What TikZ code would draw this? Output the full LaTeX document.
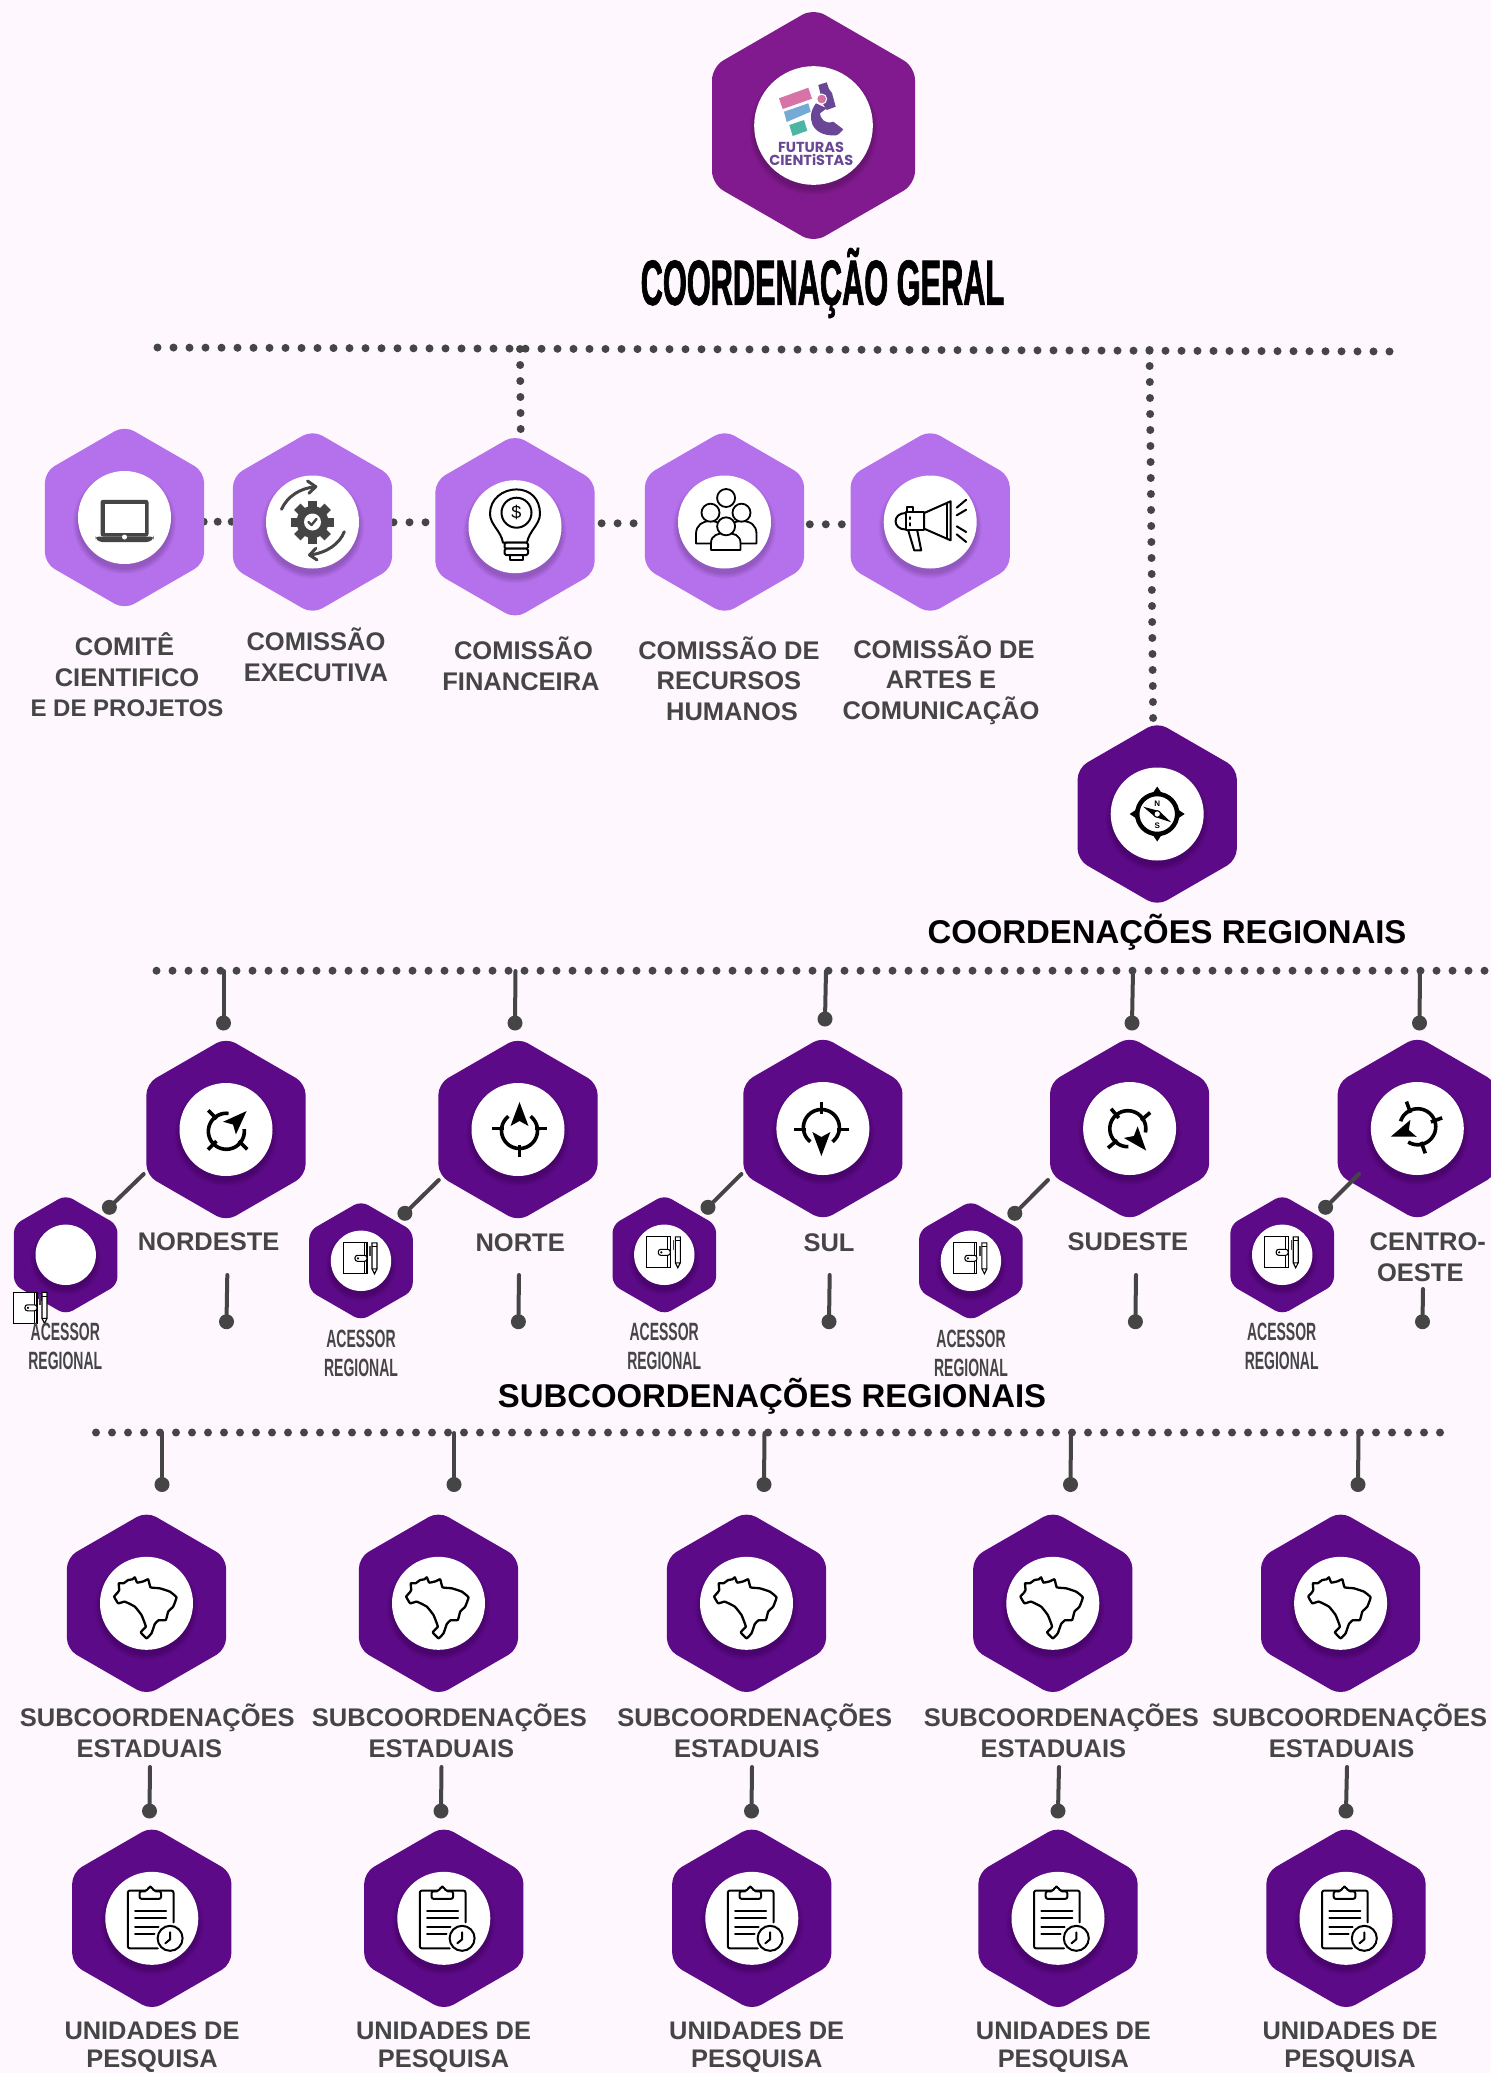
\documentclass[tikz,border=0pt]{standalone}
\usepackage{fontspec}
\setmainfont{Liberation Sans}
\newfontfamily\labfont{Liberation Sans}
\newfontfamily\condfont[FakeStretch=0.56]{Liberation Sans}
\newfontfamily\titlefont[FakeStretch=0.48,BoldFeatures={FakeBold=1}]{Liberation Sans}
\newfontfamily\logofont{Poppins}
\usetikzlibrary{shapes.geometric,backgrounds}
\definecolor{pagebg}{HTML}{FEF7FD}
\definecolor{toppurple}{HTML}{811A8E}
\definecolor{lightpurple}{HTML}{B570EC}
\definecolor{darkpurple}{HTML}{5C0A87}
\definecolor{ink}{HTML}{454545}
\definecolor{logopurple}{HTML}{6A4796}
\definecolor{logopink}{HTML}{D873A8}
\definecolor{logoblue}{HTML}{74AAD5}
\definecolor{logoteal}{HTML}{4CB5A5}
\tikzset{
  hexbase/.style={regular polygon,regular polygon sides=6,shape border rotate=30,inner sep=0pt,outer sep=0pt,draw=none},
  hextop/.style={hexbase,minimum size=234.4pt,rounded corners=13pt,fill=toppurple},
  hexlight/.style={hexbase,minimum size=183.8pt,rounded corners=11pt,fill=lightpurple},
  hexdark/.style={hexbase,minimum size=183.8pt,rounded corners=11pt,fill=darkpurple},
  hexsmall/.style={hexbase,minimum size=119.6pt,rounded corners=8pt,fill=darkpurple},
  disc/.style={circle,fill=white,inner sep=0pt,outer sep=0pt,draw=none},
  dotline/.style={draw=ink,line width=8pt,line cap=round,dash pattern=on 0pt off 16pt},
  dotshort/.style={draw=ink,line width=8pt,line cap=round,dash pattern=on 0pt off 14pt},
  ball/.style={circle,fill=ink,minimum size=15pt,inner sep=0pt,outer sep=0pt},
  stem/.style={draw=ink,line width=4pt,line cap=round},
  lab/.style={font=\labfont\bfseries\fontsize{25.5}{30.5}\selectfont,text=ink,align=center,inner sep=0pt},
  labunit/.style={font=\labfont\bfseries\fontsize{25.4}{28.5}\selectfont,text=ink,align=center,inner sep=0pt},
  labcond/.style={font=\condfont\bfseries\fontsize{25}{29.5}\selectfont,text=ink,align=center,inner sep=0pt},
  headline/.style={font=\labfont\bfseries\fontsize{32.9}{36}\selectfont,text=black,inner sep=0pt},
  titlelab/.style={font=\titlefont\bfseries\fontsize{64}{70}\selectfont,text=black,inner sep=0pt},
  logolab/.style={font=\logofont\bfseries\fontsize{14.5}{17}\selectfont,text=logopurple,align=center,inner sep=0pt},
  iconline/.style={draw=black,line width=2pt,line join=round,line cap=round},
}
% hexagon node with soft shadow and white disc
\newcommand\hx[5]{%
  \node[#4] (#1) at (#2,#3) {};
  \foreach \k in {1,...,6}{\fill[black,opacity=.03] (#2,#3+5) circle[radius=#5+6-\k];}
  \node[disc,minimum size=#5*2pt] (#1disc) at (#2,#3) {};
}
% stem with a free end and a ball
\newcommand\stemball[5]{%
  \coordinate (#1top) at (#2,#3);
  \node[ball] (#1ball) at (#4,#5) {};
  \draw[stem] (#1top) -- (#1ball);
}
% icons
\newcommand\iconcompass[3]{%
  \begin{scope}[shift={(#1,#2)},rotate=#3]
    \draw[draw=black,line width=3.6pt] plot[domain=-52:232,samples=40] ({1.5+18*cos(\x)},{1+18*sin(\x)});
    \draw[draw=black,line width=3.6pt] (-26,-1)--(-14,-1) (17,-1)--(29,-1) (1.5,15)--(1.5,27);
    \fill[black] (1.5,-27.5)--(10.5,-3.5)--(1.5,-8.5)--(-7.5,-3.5)--cycle;
  \end{scope}
}
\newcommand\iconbook[3]{%
  \begin{scope}[shift={(#1,#2)}]
    \draw[draw=black,line width=1.1pt,fill=#3] (-17.5,-18) rectangle (6,13);
    \draw[draw=black,line width=1.1pt] (3.5,-18)--(3.5,13);
    \draw[draw=black,line width=1.1pt,fill=#3,rounded corners=2.5pt] (-6,-5.5) rectangle (6,0.5);
    \fill[black] (-3,-2.5) circle[radius=1.2];
    \draw[draw=ink,line width=1.4pt] (9,-15)--(9,-5);
    \draw[draw=black,line width=1.1pt,fill=#3] (11,-18) rectangle (16,8) (11,8)--(13.5,13)--(16,8);
    \draw[draw=black,line width=.8pt] (11,-14)--(16,-14);
  \end{scope}
}
\newcommand\iconbrazil[2]{%
  \begin{scope}[shift={(#1,#2)}]
    \draw[iconline,line width=2.3pt] plot[smooth cycle,tension=.2] coordinates {
      (-32.3,-6.7)(-29,-10.5)(-27.3,-13.3)(-27.7,-20)(-23,-20)(-18.3,-23.3)(-14,-24)(-11.7,-26)(-9.3,-20.7)(-3,-22)(1.7,-24)(4,-16)(13.3,-15)(23.3,-11.7)(30,-6)(26.7,3.3)(21.7,8.3)(19.3,16.7)(12,17)(8.3,20.7)(5,30)(0,35)(-5.7,29)(-0.7,23.3)(-5,11.7)(-11.7,3.3)(-21.7,-1.7)(-28.3,0)};
  \end{scope}
}
\newcommand\iconclip[2]{%
  \begin{scope}[shift={(#1,#2)}]
    \draw[iconline,rounded corners=2pt] (21.7,4)--(21.7,-27.7)--(-24,-27.7)--(-24,30)--(6,30);
    \draw[iconline,fill=white,rounded corners=2pt] (-12.3,-27)--(-12.3,-19.5)--(9.3,-19.5)--(9.3,-27)--(2,-27)--(0,-31.7)--(-3,-31.7)--(-5,-27)--cycle;
    \draw[iconline] (-16.7,-7.7)--(14.3,-7.7) (-16.7,0)--(14.3,0) (-16.7,8.3)--(6.7,8.3) (-16.7,16)--(2.7,16);
    \draw[iconline,fill=white] (18.3,20) circle[radius=12.5];
    \draw[iconline] (18.3,14)--(18.3,21)--(13.5,25);
  \end{scope}
}
\begin{document}
\begin{tikzpicture}[x=1pt,y=-1pt]
\useasboundingbox (0,0) rectangle (1491,2073);
\clip (0,0) rectangle (1491,2073);
% hexagons
\hx{topc}{813.5}{125.5}{hextop}{59.3}
\hx{comite}{124.5}{517.5}{hexlight}{46.5}
\hx{execu}{312.5}{522}{hexlight}{46.5}
\hx{finan}{515}{526.7}{hexlight}{46.5}
\hx{recur}{724.5}{522}{hexlight}{46.5}
\hx{artes}{930.2}{522}{hexlight}{46.5}
\hx{coreg}{1157.2}{814}{hexdark}{46.5}
\hx{nordeste}{226}{1129.5}{hexdark}{46.5}
\hx{norte}{518}{1129.5}{hexdark}{46.5}
\hx{sul}{822.9}{1128.5}{hexdark}{46.5}
\hx{sudeste}{1129.6}{1128.5}{hexdark}{46.5}
\hx{centro}{1417.3}{1128.5}{hexdark}{46.5}
\hx{acesa}{65.7}{1254.8}{hexsmall}{30.2}
\hx{acesb}{361}{1260.8}{hexsmall}{30.2}
\hx{acesc}{664.3}{1254.8}{hexsmall}{30.2}
\hx{acesd}{970.9}{1260.8}{hexsmall}{30.2}
\hx{acese}{1282.2}{1254.8}{hexsmall}{30.2}
\hx{suba}{146.5}{1603.3}{hexdark}{46.5}
\hx{subb}{438.5}{1603.3}{hexdark}{46.5}
\hx{subc}{746.5}{1603.3}{hexdark}{46.5}
\hx{subd}{1052.8}{1603.3}{hexdark}{46.5}
\hx{sube}{1340.6}{1603.3}{hexdark}{46.5}
\hx{unia}{151.8}{1918.3}{hexdark}{46.5}
\hx{unib}{443.8}{1918.3}{hexdark}{46.5}
\hx{unic}{751.8}{1918.3}{hexdark}{46.5}
\hx{unid}{1058}{1918.3}{hexdark}{46.5}
\hx{unie}{1346}{1918.3}{hexdark}{46.5}
% dotted lines behind the hexagons
\coordinate (rowAa) at (157.5,347.5);
\coordinate (rowAb) at (1393,351.5);
\coordinate (jA) at (520,349);
\coordinate (jAend) at (520.8,442);
\coordinate (jB) at (1149.5,350);
\coordinate (jBend) at (1153.2,728);
\coordinate (rowBa) at (156.5,970.7);
\coordinate (rowBb) at (1500,970.7);
\coordinate (rowCa) at (96,1432.5);
\coordinate (rowCb) at (1444,1432.5);
\coordinate (linkAa) at (203.7,521.7);
\coordinate (linkAb) at (232,521.7);
\coordinate (linkBa) at (393.5,522.3);
\coordinate (linkBb) at (426,522.3);
\coordinate (linkCa) at (601.6,523.3);
\coordinate (linkCb) at (634,523.3);
\coordinate (linkDa) at (809.8,524.3);
\coordinate (linkDb) at (843,524.3);
\begin{scope}[on background layer]
  \fill[pagebg] (0,0) rectangle (1491,2073);
  \draw[dotline] (rowAa)--(rowAb);
  \draw[dotline] (rowBa)--(rowBb);
  \draw[dotline] (rowCa)--(rowCb);
  \draw[dotline] (jA)--(jAend);
  \draw[dotline] (jB)--(jBend);
  \draw[dotshort] (linkAa)--(linkAb);
  \draw[dotline] (linkBa)--(linkBb);
  \draw[dotline] (linkCa)--(linkCb);
  \draw[dotline] (linkDa)--(linkDb);
\end{scope}
% stems
\stemball{sa}{223.5}{971}{223.5}{1023}
\stemball{sb}{515.5}{971}{515}{1023}
\stemball{sc}{826}{971}{825}{1019}
\stemball{sd}{1133}{971}{1132}{1023}
\stemball{se}{1420}{971}{1419.5}{1023}
\stemball{da}{143.7}{1174}{109.4}{1207.3}
\stemball{db}{438.8}{1180}{404.9}{1213.3}
\stemball{dc}{741.4}{1174}{708}{1207.3}
\stemball{dd}{1048}{1180}{1014.8}{1213.3}
\stemball{de}{1359}{1174}{1325.6}{1207.3}
\stemball{ua}{227.3}{1275}{226.5}{1321.7}
\stemball{ub}{519}{1275}{518.4}{1321.7}
\stemball{uc}{829.7}{1275}{829}{1321.7}
\stemball{ud}{1136}{1275}{1135.4}{1321.7}
\stemball{ue}{1423}{1289}{1422.5}{1321.7}
\stemball{ra}{162}{1433}{162}{1484.5}
\stemball{rb}{454}{1433}{454}{1484.5}
\stemball{rc}{764.5}{1433}{764}{1484.5}
\stemball{rd}{1071}{1433}{1070.5}{1484.5}
\stemball{re}{1358.5}{1433}{1358}{1484.5}
\stemball{va}{150}{1767}{149.5}{1811}
\stemball{vb}{441.5}{1767}{441}{1811}
\stemball{vc}{752}{1767}{751.5}{1811}
\stemball{vd}{1059}{1767}{1058}{1811}
\stemball{ve}{1347}{1767}{1346}{1811}
% logo
\begin{scope}
  \fill[logopink] (779,98.3)--(808.3,87.7)--(812,98.7)--(782.7,109)--cycle;
  \fill[logoblue] (784,111.7)--(808.3,103.3)--(810.7,111.7)--(786.7,122)--cycle;
  \fill[logoteal] (789.3,125)--(804,120)--(807.3,130.7)--(792.7,136)--cycle;
  \fill[logopurple] (818.3,85)--(826.7,82.3)--(829,89)--(832,93)--(835.7,106.7)--(826.7,110)--(823,104)--cycle;
  \fill[logopurple] (816,103.3) .. controls (806,116) and (810,136) .. (835,135.5)
     .. controls (838,135.5) and (841,132) .. (843.3,129.3) -- (833.3,121.7)
     .. controls (825,125) and (820,118) .. (820,113.3) -- (826.7,108.3) -- cycle;
  \fill[logopink,draw=white,line width=1pt] (821.7,99) circle[radius=5];
  \node[logolab] (logotxa) at (811,147) {FUTURAS};
  \node[logolab] (logotxb) at (811.3,159.7) {CIENT{\fontsize{14}{17}\selectfont i}STAS};
\end{scope}
% laptop
\begin{scope}[shift={(124.5,517.5)}]
  \fill[ink,rounded corners=2.5pt] (-24,-17.7) rectangle (24,19);
  \fill[white] (-20,-13.3) rectangle (20,15);
  \fill[ink,rounded corners=3pt] (-29,19)--(29,19)--(29,21)--(25,24.5)--(-25,24.5)--(-29,21)--cycle;
  \fill[white] (0,19.5) circle[radius=2.5];
\end{scope}
% gear
\begin{scope}[shift={(312.5,522)}]
  \foreach \a in {0,45,...,315}{\fill[ink,rotate=\a] (-4.5,-21.5) rectangle (4.5,-12);}
  \fill[ink] (0,0) circle[radius=16];
  \fill[white] (0,0) circle[radius=8.5];
  \draw[ink,line width=2.4pt,line cap=round,line join=round] (-4,0)--(-1,3)--(4,-3);
  \draw[ink,line width=3pt,line cap=round,line join=round] (-31,-12.7) .. controls (-25,-26) and (-12,-34) .. (3.3,-35.3);
  \draw[ink,line width=3pt,line cap=round,line join=round] (-5,-41)--(3.3,-35.3)--(-3.6,-28.7);
  \draw[ink,line width=3pt,line cap=round,line join=round] (31.8,9.7) .. controls (27,22) and (14,31) .. (-2.9,33);
  \draw[ink,line width=3pt,line cap=round,line join=round] (3.3,26.3)--(-2.9,33)--(4.5,38);
\end{scope}
% bulb
\begin{scope}[shift={(515,526.7)}]
  \draw[iconline] (-12,16) .. controls (-14,4) and (-25,-2) .. (-25,-13) .. controls (-25,-28) and (-12,-37.3) .. (1.5,-37.3) .. controls (15,-37.3) and (25,-28) .. (25,-13) .. controls (25,-2) and (14,4) .. (12,16)--cycle;
  \draw[iconline] (1.5,-14) circle[radius=15];
  \node[font=\labfont\fontsize{18}{20}\selectfont,text=black,inner sep=0pt] (bulbsign) at (1.5,-14) {\$};
  \draw[iconline,fill=white,rounded corners=1.5pt] (-10.5,16) rectangle (13,22);
  \draw[iconline,fill=white,rounded corners=1.5pt] (-10.5,22) rectangle (13,28.3);
  \draw[iconline] (-5,28.3)--(-5,33.3)--(7.5,33.3)--(7.5,28.3);
\end{scope}
% people
\begin{scope}[shift={(724.5,522)},every path/.style={iconline,line width=1.8pt,fill=white}]
  \draw (1.6,-24) circle[radius=9];
  \draw (-28.5,21.5)--(-28.5,12) .. controls (-28.5,3) and (-22,-1) .. (-14,-1) .. controls (-6,-1) and (1,4) .. (1,12)--(1,21.5)--cycle;
  \draw (32,21.5)--(32,12) .. controls (32,3) and (26,-1) .. (17,-1) .. controls (9,-1) and (2,4) .. (2,12)--(2,21.5)--cycle;
  \draw (-14,-9.3) circle[radius=9];
  \draw (17,-9.3) circle[radius=9];
  \draw (-13.5,28)--(-13.5,21) .. controls (-13.5,13) and (-6,11) .. (1.5,11) .. controls (9,11) and (16,13) .. (16,21)--(16,28)--cycle;
  \draw (1.6,4.3) circle[radius=9];
\end{scope}
% megaphone
\begin{scope}[shift={(930.2,522)}]
  \draw[iconline] (-6,-9)--(20.4,-20.7)--(20.4,18.3)--(-6,6.7)--cycle;
  \draw[iconline] (-24.5,-10) rectangle (-6,8.3);
  \draw[iconline] (-24.5,-9) .. controls (-38,-9) and (-38,7.5) .. (-24.5,7.5);
  \draw[iconline] (-23.6,-10)--(-23.6,-15)--(-17.5,-15)--(-17.5,-10);
  \draw[iconline] (-22,8.3)--(-16,28.3)--(-9,28.3)--(-13,8.3);
  \draw[iconline] (16.3,-18)--(16.3,15.6);
  \draw[iconline] (-20.5,-5)--(-20.5,-3) (-20.5,1)--(-20.5,3.5);
  \draw[iconline] (26.5,-14.3)--(36,-22.3) (26.5,-6.7)--(36,-12.3) (26.5,4.3)--(36,10) (26.5,12.3)--(36,20);
\end{scope}
% N/S compass
\begin{scope}[shift={(1157.2,814)}]
  \draw[draw=black,line width=4.5pt] (0,0) circle[radius=20];
  \fill[black] (0,-27.5)--(5,-20)--(-5,-20)--cycle (0,27.5)--(5,20)--(-5,20)--cycle (-27.5,0)--(-20,5)--(-20,-5)--cycle (27.5,0)--(20,5)--(20,-5)--cycle;
  \fill[black] (-14,-7.3)--(2,-3)--(14,8.3)--(-2,3)--cycle;
  \draw[draw=black,fill=white,line width=1pt] (0,0) circle[radius=3.3];
  \node[font=\labfont\bfseries\fontsize{8}{9}\selectfont,text=black,inner sep=0pt] (cpn) at (0,-10.7) {N};
  \node[font=\labfont\bfseries\fontsize{8}{9}\selectfont,text=black,inner sep=0pt] (cps) at (0,11.7) {S};
\end{scope}
% regional compasses
\iconcompass{226}{1129.5}{-45}
\iconcompass{518}{1129.5}{0}
\iconcompass{822.9}{1128.5}{180}
\iconcompass{1129.6}{1128.5}{-140}
\iconcompass{1417.3}{1128.5}{-250}
% notebooks
\iconbook{31}{1310.3}{white}
\iconbook{361}{1260.8}{white}
\iconbook{664.3}{1254.8}{white}
\iconbook{970.9}{1260.8}{white}
\iconbook{1282.2}{1254.8}{white}
% Brazil
\iconbrazil{146.5}{1603.3}
\iconbrazil{438.5}{1603.3}
\iconbrazil{746.5}{1603.3}
\iconbrazil{1052.8}{1603.3}
\iconbrazil{1340.6}{1603.3}
% clipboards
\iconclip{151.8}{1918.3}
\iconclip{443.8}{1918.3}
\iconclip{751.8}{1918.3}
\iconclip{1058}{1918.3}
\iconclip{1346}{1918.3}
% labels
\node[titlelab] (ttitle) at (822.5,283) {COORDENAÇÃO GERAL};
\node[lab] (lcomite) at (127,675) {COMITÊ\hspace*{5pt}\\CIENTIFICO\\{\fontsize{24}{30.5}\selectfont E DE PROJETOS}};
\node[lab] (lexec) at (316,654.7) {COMISSÃO\\EXECUTIVA};
\node[lab] (lfin) at (521,663.7) {\hspace*{5pt}COMISSÃO\\FINANCEIRA};
\node[lab] (lrec) at (729,678.7) {COMISSÃO DE\\RECURSOS\\\hspace*{6pt}HUMANOS};
\node[lab] (lart) at (941,680) {\hspace*{6pt}COMISSÃO DE\\ARTES E\\COMUNICAÇÃO};
\node[headline] (lcoreg) at (1167,932) {COORDENAÇÕES REGIONAIS};
\node[headline] (lsubreg) at (772,1396) {SUBCOORDENAÇÕES REGIONAIS};
\node[lab] (lnordeste) at (208.6,1241.7) {NORDESTE};
\node[lab] (lnorte) at (520.2,1242.7) {NORTE};
\node[lab] (lsul) at (829,1242.7) {SUL};
\node[lab] (lsudeste) at (1127.9,1241.7) {SUDESTE};
\node[lab] (lcentro) at (1427.8,1257) {CENTRO-\\OESTE\hspace*{15pt}};
\node[labcond] (lacesa) at (65.3,1346.5) {ACESSOR\\REGIONAL};
\node[labcond] (lacesb) at (361,1353.3) {ACESSOR\\REGIONAL};
\node[labcond] (lacesc) at (664.2,1346.5) {ACESSOR\\REGIONAL};
\node[labcond] (lacesd) at (971,1353.3) {ACESSOR\\REGIONAL};
\node[labcond] (lacese) at (1281.7,1346.5) {ACESSOR\\REGIONAL};
\node[lab] (lsuba) at (157.3,1731) {SUBCOORDENAÇÕES\\ESTADUAIS\hspace*{16pt}};
\node[lab] (lsubb) at (449.4,1731) {SUBCOORDENAÇÕES\\ESTADUAIS\hspace*{16pt}};
\node[lab] (lsubc) at (754.8,1731) {SUBCOORDENAÇÕES\\ESTADUAIS\hspace*{16pt}};
\node[lab] (lsubd) at (1061.4,1731) {SUBCOORDENAÇÕES\\ESTADUAIS\hspace*{16pt}};
\node[lab] (lsube) at (1349.6,1731) {SUBCOORDENAÇÕES\\ESTADUAIS\hspace*{16pt}};
\node[labunit] (lunia) at (152,2047) {UNIDADES DE\\PESQUISA};
\node[labunit] (lunib) at (443.5,2047) {UNIDADES DE\\PESQUISA};
\node[labunit] (lunic) at (756.7,2047) {UNIDADES DE\\PESQUISA};
\node[labunit] (lunid) at (1063.4,2047) {UNIDADES DE\\PESQUISA};
\node[labunit] (lunie) at (1350,2047) {UNIDADES DE\\PESQUISA};
\end{tikzpicture}
\end{document}
